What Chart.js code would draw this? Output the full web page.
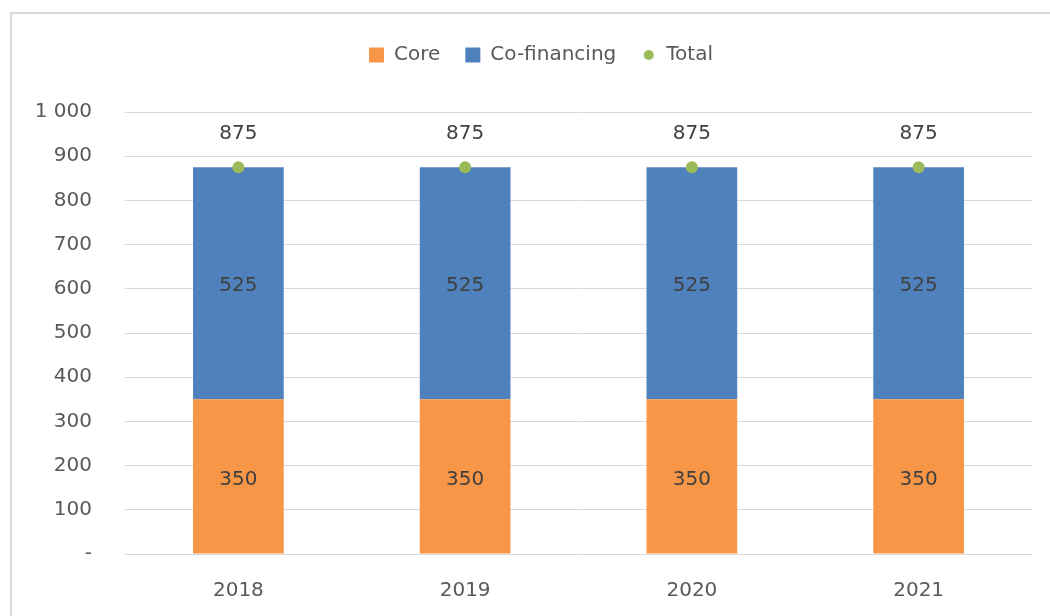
<!DOCTYPE html>
<html>
<head>
<meta charset="utf-8">
<script src="https://cdn.jsdelivr.net/npm/chart.js@4.4.1/dist/chart.umd.min.js"></script>
<style>
  html, body { margin: 0; padding: 0; background: #ffffff; }
  #wrap { width: 1050px; height: 616px; position: relative; }
</style>
</head>
<body>
<div id="wrap"><canvas id="c" width="1050" height="616"></canvas></div>
<script>
const categories = ['2018', '2019', '2020', '2021'];
const coreValues = [350, 350, 350, 350];
const coFinancingValues = [525, 525, 525, 525];
const totalValues = [875, 875, 875, 875];
const seriesNames = ['Core', 'Co-financing', 'Total'];
const yTickValues = [0, 100, 200, 300, 400, 500, 600, 700, 800, 900, 1000];
const yTickLabels = ['-', '100', '200', '300', '400', '500', '600', '700', '800', '900', '1 000'];

const FONT = 'DejaVu Sans';
const TEXT = '#595959';
const LABEL = '#404040';
const ORANGE = '#F79646';
const BLUE = '#4F81BD';
const GREEN = '#9BBB59';

// small green dot for the legend
const dot = document.createElement('canvas');
dot.width = 12; dot.height = 12;
(function () {
  const g = dot.getContext('2d');
  g.fillStyle = GREEN;
  g.beginPath(); g.arc(6, 6, 5, 0, Math.PI * 2); g.fill();
})();

const framePlugin = {
  id: 'frame',
  beforeDraw(chart) {
    const ctx = chart.ctx;
    ctx.save();
    ctx.strokeStyle = '#D9D9D9';
    ctx.lineWidth = 2;
    ctx.beginPath();
    ctx.moveTo(11, 616); ctx.lineTo(11, 13); ctx.lineTo(1050, 13);
    ctx.stroke();
    ctx.restore();
  }
};

const legendSizePlugin = {
  id: 'legendSize',
  beforeUpdate(chart) {
    const lg = chart.legend;
    if (lg && !lg._patched) {
      const orig = lg.fit;
      lg.fit = function () { orig.call(this); this.height = 92; };
      lg._patched = true;
    }
  },
  afterLayout(chart) {
    const lg = chart.legend;
    if (lg) { lg.left += 25; lg.right += 25; }
  }
};

const labelPlugin = {
  id: 'valueLabels',
  afterDatasetsDraw(chart) {
    const ctx = chart.ctx;
    ctx.save();
    ctx.font = '20px "' + FONT + '"';
    ctx.fillStyle = LABEL;
    ctx.textAlign = 'center';
    ctx.textBaseline = 'middle';
    chart.data.datasets.forEach((ds, di) => {
      const meta = chart.getDatasetMeta(di);
      meta.data.forEach((el, i) => {
        const v = ds.data[i];
        if (meta.type === 'bar') {
          ctx.fillText(String(v), el.x, (el.y + el.base) / 2 + 3);
        } else {
          ctx.fillText(String(v), el.x, el.y - 33);
        }
      });
    });
    ctx.restore();
  }
};

new Chart(document.getElementById('c'), {
  data: {
    labels: categories,
    datasets: [
      {
        type: 'bar', label: seriesNames[0], data: coreValues,
        backgroundColor: ORANGE, borderWidth: 0, pointStyle: 'rect',
        barPercentage: 0.4, categoryPercentage: 1.0, order: 2
      },
      {
        type: 'bar', label: seriesNames[1], data: coFinancingValues,
        backgroundColor: BLUE, borderWidth: 0, pointStyle: 'rect',
        barPercentage: 0.4, categoryPercentage: 1.0, order: 2
      },
      {
        type: 'line', label: seriesNames[2], data: totalValues,
        showLine: false, pointRadius: 6, pointHoverRadius: 6,
        pointBackgroundColor: GREEN, pointBorderColor: GREEN, pointBorderWidth: 0,
        backgroundColor: GREEN, borderColor: GREEN, order: 1
      }
    ]
  },
  options: {
    responsive: false,
    animation: false,
    devicePixelRatio: 1,
    layout: { padding: { top: 20, left: 0, right: 18, bottom: 0 } },
    plugins: {
      legend: {
        position: 'top',
        labels: {
          usePointStyle: true,
          boxHeight: 15,
          boxWidth: 15,
          padding: 25,
          color: TEXT,
          font: { family: FONT, size: 20 },
          generateLabels(chart) {
            return chart.data.datasets.map((ds, i) => ({
              text: ds.label,
              fillStyle: ds.backgroundColor,
              strokeStyle: ds.backgroundColor,
              lineWidth: 0,
              pointStyle: ds.type === 'line' ? dot : 'rect',
              fontColor: TEXT,
              hidden: false,
              datasetIndex: i
            }));
          }
        }
      },
      tooltip: { enabled: false }
    },
    scales: {
      x: {
        stacked: true,
        grid: { display: false, drawTicks: false },
        border: { display: false },
        ticks: { color: TEXT, font: { family: FONT, size: 20 }, padding: 25 },
        afterFit(s) { s.height = 62; }
      },
      y: {
        stacked: true,
        min: 0, max: 1000,
        afterBuildTicks(s) { s.ticks = yTickValues.map(v => ({ value: v })); },
        grid: { color: '#D9D9D9', lineWidth: 1, drawTicks: false },
        border: { display: false },
        ticks: {
          color: TEXT, font: { family: FONT, size: 20 }, padding: 33,
          callback(value) { const k = yTickValues.indexOf(value); return k >= 0 ? yTickLabels[k] : ''; }
        },
        afterFit(s) { s.width = 125; }
      }
    }
  },
  plugins: [framePlugin, legendSizePlugin, labelPlugin]
});
</script>
</body>
</html>
